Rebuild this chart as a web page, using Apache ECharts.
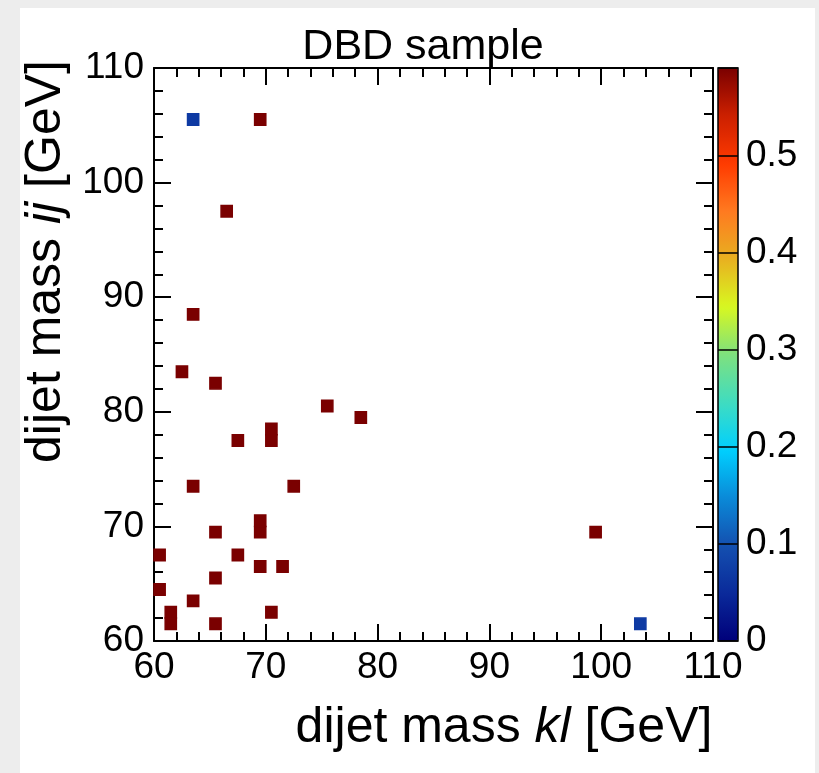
<!DOCTYPE html>
<html>
<head>
<meta charset="utf-8">
<script src="https://cdn.jsdelivr.net/npm/echarts@6/dist/echarts.min.js"></script>
<style>
html,body{margin:0;padding:0;background:#ededed;}
#c{width:819px;height:773px;}
</style>
</head>
<body>
<div id="c"></div>
<script>
// Bin lower edges (1 GeV bins) of filled cells
const klBins = [63, 69, 66, 63, 62, 65, 75, 78, 67, 70, 70, 63, 72, 69, 69, 65, 60, 67, 69, 71, 65, 60, 63, 61, 61, 70, 65, 99, 103];
const ijBins = [105, 105, 97, 88, 83, 82, 80, 79, 77, 77, 78, 73, 73, 69, 70, 69, 67, 67, 66, 66, 65, 64, 63, 61, 62, 62, 61, 69, 61];
const cellValues = [0.07, 0.59, 0.59, 0.59, 0.59, 0.59, 0.59, 0.59, 0.59, 0.59, 0.59, 0.59, 0.59, 0.59, 0.59, 0.59, 0.59, 0.59, 0.59, 0.59, 0.59, 0.59, 0.59, 0.59, 0.59, 0.59, 0.59, 0.59, 0.07];
const axisMin = 60, axisMax = 110, axisStep = 10;
const zMin = 0, zMax = 0.59, zStep = 0.1;
const titleText = 'DBD sample';

const data = klBins.map((x, i) => [x, ijBins[i], cellValues[i]]);

const FONT = '"Liberation Sans", Arial, sans-serif';
const chart = echarts.init(document.getElementById('c'), null, {renderer: 'canvas'});

function mainAxis(extra) {
  return Object.assign({
    type: 'value', min: axisMin, max: axisMax, interval: axisStep,
    axisLine: {show: true, onZero: false, lineStyle: {color: '#000', width: 2}},
    axisTick: {show: true, inside: true, length: 17, lineStyle: {color: '#000', width: 2}},
    minorTick: {show: true, splitNumber: 5, length: 9, lineStyle: {color: '#000', width: 2}},
    splitLine: {show: false},
    axisLabel: {show: true, fontFamily: FONT, fontSize: 37, color: '#000'}
  }, extra);
}

const option = {
  backgroundColor: '#ededed',
  animation: false,
  graphic: [{
    type: 'rect', z: -10, silent: true,
    shape: {x: 20, y: 8, width: 795, height: 765},
    style: {fill: '#ffffff'}
  }],
  title: {
    text: titleText, left: 418, top: 21, textAlign: 'center',
    textStyle: {fontFamily: FONT, fontSize: 43, fontWeight: 'normal', color: '#000'}
  },
  grid: [
    {left: 154, top: 68, width: 559, height: 573, show: false},
    {left: 718, top: 68, width: 20, height: 573, show: true, borderColor: '#000', borderWidth: 1.5, backgroundColor: 'transparent', z: 10}
  ],
  xAxis: [
    mainAxis({gridIndex: 0, position: 'bottom',
      axisLabel: {fontFamily: FONT, fontSize: 37, color: '#000', margin: 8},
      name: '{a|dijet mass }{i|kl}{a| [GeV]}', nameLocation: 'middle', nameGap: 62,
      nameTextStyle: {padding: [0, 0, 0, 141], rich: {
        a: {fontFamily: FONT, fontSize: 50, color: '#000'},
        i: {fontFamily: FONT, fontSize: 50, color: '#000', fontStyle: 'italic'}}}
    }),
    mainAxis({gridIndex: 0, position: 'top', axisLabel: {show: false}}),
    {type: 'value', gridIndex: 1, min: 0, max: 1, show: false}
  ],
  yAxis: [
    mainAxis({gridIndex: 0, position: 'left',
      axisLabel: {fontFamily: FONT, fontSize: 37, color: '#000', margin: 10},
      name: '{a|dijet mass }{i|ij}{a| [GeV]}', nameLocation: 'middle', nameGap: 76,
      nameTextStyle: {padding: [0, 0, 0, 186], rich: {
        a: {fontFamily: FONT, fontSize: 50, color: '#000'},
        i: {fontFamily: FONT, fontSize: 50, color: '#000', fontStyle: 'italic'}}}
    }),
    mainAxis({gridIndex: 0, position: 'right', axisLabel: {show: false}}),
    {
      type: 'value', gridIndex: 1, min: zMin, max: zMax, interval: zStep, position: 'right', z: 10,
      axisLine: {show: false},
      axisTick: {show: false},
      splitLine: {show: true, lineStyle: {color: '#000', width: 1.5}},
      axisLabel: {fontFamily: FONT, fontSize: 37, color: '#000', margin: 8, showMaxLabel: false,
        formatter: v => (v > 0.55 ? '' : String(Math.round(v * 10) / 10))}
    }
  ],
  visualMap: {
    type: 'continuous', min: zMin, max: zMax, dimension: 2, seriesIndex: 0,
    calculable: false, show: true, orient: 'vertical',
    left: 718, top: 68, itemWidth: 20, itemHeight: 573, padding: 0, text: null,
    showLabel: false, hoverLink: false,
    inRange: {color: ['#00007a', '#0a2a9a', '#1450b0', '#0a8ad8', '#00d0ff', '#40dcc0', '#7ee07e', '#d8f820', '#e8b020', '#ff7a20', '#ff3a00', '#cc2000', '#7a0000']}
  },
  series: [{
    type: 'custom', xAxisIndex: 0, yAxisIndex: 0, data: data,
    renderItem: function (params, api) {
      const x = api.value(0), y = api.value(1);
      const p0 = api.coord([x, y + 1]);
      const p1 = api.coord([x + 1, y]);
      const c = api.visual('color');
      return {
        type: 'rect',
        shape: {x: p0[0], y: p0[1], width: p1[0] - p0[0], height: p1[1] - p0[1]},
        style: {fill: c, stroke: c, lineWidth: 1.5}
      };
    }
  }]
};
chart.setOption(option);
</script>
</body>
</html>
